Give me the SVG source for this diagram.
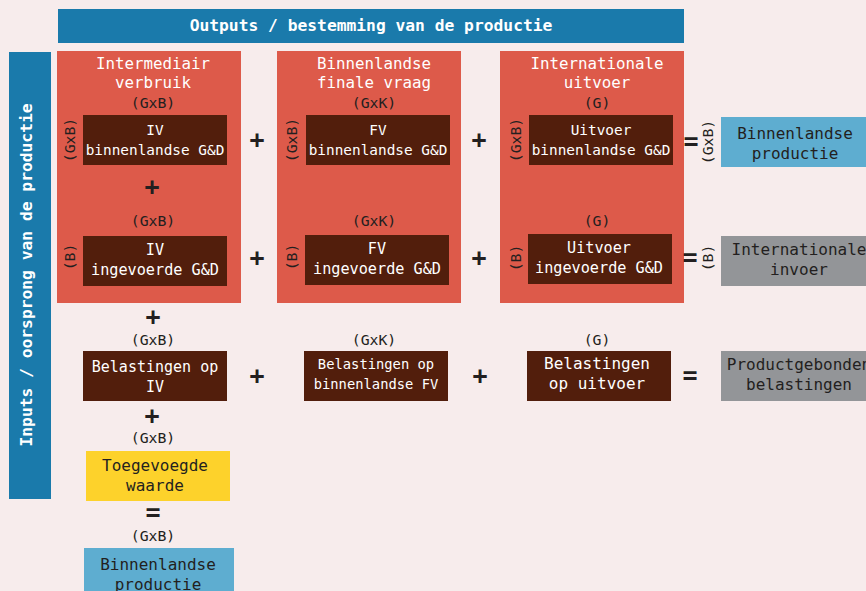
<svg xmlns="http://www.w3.org/2000/svg" width="866" height="591" viewBox="0 0 866 591">
<style>
text{font-family:"DejaVu Sans Mono","Liberation Mono",monospace;text-anchor:middle}
.w{fill:#ffffff}
.d{fill:#231f20}
.hdr{font-size:16.3px;font-weight:bold;fill:#ffffff}
.h{font-size:15.8px;fill:#ffffff}
.dim{font-size:14.8px;fill:#231f20}
.op{font-size:25px;font-weight:bold;fill:#231f20;dominant-baseline:central}
.red{fill:#dd5a4a}
.brown{fill:#521e0c}
.blue{fill:#1a7aab}
.lblue{fill:#5eadd0}
.gray{fill:#939598}
.yellow{fill:#fdd22b}
</style>
<rect width="866" height="591" fill="#f7ecec"/>

<g id="header-outputs">
<rect class="blue" x="58" y="9" width="626" height="34"/>
<text class="hdr" x="371" y="31">Outputs / bestemming van de productie</text>
</g>
<g id="header-inputs">
<rect class="blue" x="9" y="52" width="42" height="447"/>
<text class="hdr" transform="translate(32,275) rotate(-90)">Inputs / oorsprong van de productie</text>
</g>

<g id="col-iv">
<rect class="red" x="57" y="51" width="184" height="252"/>
<text class="h" x="153" y="69">Intermediair</text>
<text class="h" x="153" y="88">verbruik</text>
</g>
<g id="col-fv">
<rect class="red" x="277" y="51" width="184" height="252"/>
<text class="h" x="374" y="69">Binnenlandse</text>
<text class="h" x="374" y="88">finale vraag</text>
</g>
<g id="col-uitvoer">
<rect class="red" x="500" y="51" width="184" height="252"/>
<text class="h" x="597" y="69">Internationale</text>
<text class="h" x="597" y="88">uitvoer</text>
</g>

<g id="iv-binnen">
<text class="dim" x="153" y="108">(GxB)</text>
<text class="dim" transform="translate(75,140) rotate(-90)">(GxB)</text>
<rect class="brown" x="83" y="115" width="144" height="50"/>
<text class="w" style="font-size:14.4px" x="155" y="135">IV</text>
<text class="w" style="font-size:14.4px" x="155" y="155">binnenlandse G&amp;D</text>
</g>
<g id="fv-binnen">
<text class="dim" x="374" y="108">(GxK)</text>
<text class="dim" transform="translate(297,140) rotate(-90)">(GxB)</text>
<rect class="brown" x="306" y="115" width="144" height="50"/>
<text class="w" style="font-size:14.4px" x="378" y="135">FV</text>
<text class="w" style="font-size:14.4px" x="378" y="155">binnenlandse G&amp;D</text>
</g>
<g id="uitvoer-binnen">
<text class="dim" x="597" y="108">(G)</text>
<text class="dim" transform="translate(521,140) rotate(-90)">(GxB)</text>
<rect class="brown" x="529" y="115" width="144" height="50"/>
<text class="w" style="font-size:14.4px" x="601" y="135">Uitvoer</text>
<text class="w" style="font-size:14.4px" x="601" y="155">binnenlandse G&amp;D</text>
</g>
<g id="binnenlandse-productie-r">
<text class="dim" transform="translate(713,142) rotate(-90)">(GxB)</text>
<rect class="lblue" x="721" y="117" width="148" height="50"/>
<text class="d" style="font-size:16px" x="795" y="139">Binnenlandse</text>
<text class="d" style="font-size:16px" x="795" y="159">productie</text>
</g>

<g id="iv-ingevoerd">
<text class="dim" x="153" y="226">(GxB)</text>
<text class="dim" transform="translate(75,257) rotate(-90)">(B)</text>
<rect class="brown" x="83" y="236" width="144" height="50"/>
<text class="w" style="font-size:15.2px" x="155" y="255">IV</text>
<text class="w" style="font-size:15.2px" x="155" y="275">ingevoerde G&amp;D</text>
</g>
<g id="fv-ingevoerd">
<text class="dim" x="374" y="226">(GxK)</text>
<text class="dim" transform="translate(297,257) rotate(-90)">(B)</text>
<rect class="brown" x="305" y="235" width="144" height="50"/>
<text class="w" style="font-size:15.2px" x="377" y="254">FV</text>
<text class="w" style="font-size:15.2px" x="377" y="274">ingevoerde G&amp;D</text>
</g>
<g id="uitvoer-ingevoerd">
<text class="dim" x="597" y="226">(G)</text>
<text class="dim" transform="translate(521,258) rotate(-90)">(B)</text>
<rect class="brown" x="528" y="234" width="144" height="50"/>
<text class="w" style="font-size:15.2px" x="599" y="253">Uitvoer</text>
<text class="w" style="font-size:15.2px" x="599" y="273">ingevoerde G&amp;D</text>
</g>
<g id="internationale-invoer">
<text class="dim" transform="translate(713,258) rotate(-90)">(B)</text>
<rect class="gray" x="721" y="236" width="160" height="50"/>
<text class="d" style="font-size:16px" x="799" y="255">Internationale</text>
<text class="d" style="font-size:16px" x="799" y="275">invoer</text>
</g>

<g id="belasting-iv">
<text class="dim" x="153" y="345">(GxB)</text>
<rect class="brown" x="83" y="351" width="144" height="50"/>
<text class="w" style="font-size:15px" x="155" y="372">Belastingen op</text>
<text class="w" style="font-size:15px" x="155" y="392">IV</text>
</g>
<g id="belasting-fv">
<text class="dim" x="374" y="345">(GxK)</text>
<rect class="brown" x="304" y="351" width="144" height="50"/>
<text class="w" style="font-size:13.8px" x="376" y="369">Belastingen op</text>
<text class="w" style="font-size:13.8px" x="376" y="389">binnenlandse FV</text>
</g>
<g id="belasting-uitvoer">
<text class="dim" x="597" y="345">(G)</text>
<rect class="brown" x="527" y="351" width="144" height="50"/>
<text class="w" style="font-size:16px" x="597" y="369">Belastingen</text>
<text class="w" style="font-size:16px" x="597" y="389">op uitvoer</text>
</g>
<g id="productgebonden-belastingen">
<rect class="gray" x="721" y="351" width="160" height="50"/>
<text class="d" style="font-size:16px" x="799" y="370">Productgebonden</text>
<text class="d" style="font-size:16px" x="799" y="390">belastingen</text>
</g>

<g id="toegevoegde-waarde">
<text class="dim" x="153" y="443">(GxB)</text>
<rect class="yellow" x="86" y="451" width="144" height="50"/>
<text class="d" style="font-size:16px" x="155" y="471">Toegevoegde</text>
<text class="d" style="font-size:16px" x="155" y="491">waarde</text>
</g>
<g id="binnenlandse-productie-b">
<text class="dim" x="153" y="541">(GxB)</text>
<rect class="lblue" x="84" y="548" width="150" height="50"/>
<text class="d" style="font-size:16px" x="158" y="570">Binnenlandse</text>
<text class="d" style="font-size:16px" x="158" y="590">productie</text>
</g>

<g id="connectors">
<text class="op" x="257" y="139">+</text>
<text class="op" x="479" y="139">+</text>
<text class="op" x="691" y="141">=</text>
<text class="op" x="152" y="186">+</text>
<text class="op" x="257" y="257">+</text>
<text class="op" x="479" y="257">+</text>
<text class="op" x="690" y="257">=</text>
<text class="op" x="153" y="316">+</text>
<text class="op" x="257" y="375">+</text>
<text class="op" x="480" y="375">+</text>
<text class="op" x="690" y="375">=</text>
<text class="op" x="152" y="415">+</text>
<text class="op" x="153" y="512">=</text>
</g>
</svg>
